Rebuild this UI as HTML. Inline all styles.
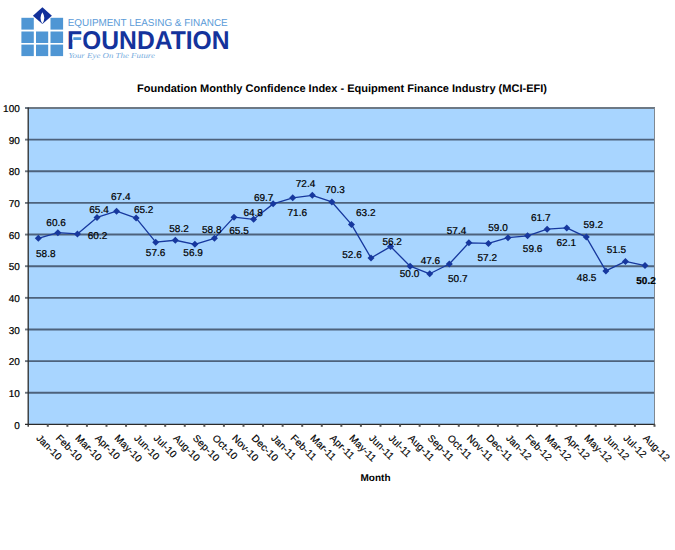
<!DOCTYPE html>
<html><head><meta charset="utf-8"><title>MCI-EFI</title>
<style>
html,body{margin:0;padding:0;background:#fff;}
body{width:675px;height:550px;overflow:hidden;font-family:"Liberation Sans",sans-serif;}
svg{display:block;}
text{font-family:"Liberation Sans",sans-serif;text-rendering:geometricPrecision;}
.k{stroke:#000;stroke-width:0.22;}
.r{stroke-width:0.16;letter-spacing:0.1px;}
.s{font-family:"Liberation Serif",serif;}
</style></head><body>
<svg width="675" height="550" viewBox="0 0 675 550">
<rect x="0" y="0" width="675" height="550" fill="#ffffff"/>

<g id="logo">
<rect x="21.4" y="17.8" width="12.4" height="11.8" fill="#4f96d4"/>
<rect x="50.5" y="17.8" width="12.6" height="11.8" fill="#4f96d4"/>
<rect x="21.4" y="31.5" width="12.4" height="11.5" fill="#4f96d4"/>
<rect x="36.0" y="31.5" width="12.2" height="11.5" fill="#4f96d4"/>
<rect x="50.5" y="31.5" width="12.6" height="11.5" fill="#4f96d4"/>
<rect x="21.4" y="44.6" width="12.4" height="11.5" fill="#4f96d4"/>
<rect x="36.0" y="44.6" width="12.2" height="11.5" fill="#4f96d4"/>
<rect x="50.5" y="44.6" width="12.6" height="11.5" fill="#4f96d4"/>
<polygon points="42.4,7.3 51.9,15.7 42.4,24.1 32.9,15.7" fill="#12309a"/>
<path d="M42.4,12.2 Q38.6,18 42.4,23.7 Q46.2,18 42.4,12.2 Z" fill="#ffffff"/>
<text x="67.7" y="25.6" font-size="10.1" fill="#5b9bd8" textLength="160" lengthAdjust="spacingAndGlyphs">EQUIPMENT LEASING &amp; FINANCE</text>
<text x="67.0" y="48.9" font-size="25.8" font-weight="bold" fill="#14339c" textLength="162.6" lengthAdjust="spacingAndGlyphs">FOUNDATION</text>
<rect x="72.45" y="36.0" width="10.8" height="7.4" fill="#ffffff"/>
<rect x="73.3" y="37.2" width="7.9" height="2.9" rx="0.5" fill="#4c98d8"/>
<text class="s" x="68.4" y="58.2" font-size="7.6" font-style="italic" fill="#76abdd" textLength="86.5" lengthAdjust="spacingAndGlyphs">Your Eye On The Future</text>
</g>
<text x="137.0" y="92" font-size="11" font-weight="bold" fill="#000" textLength="410" lengthAdjust="spacingAndGlyphs">Foundation Monthly Confidence Index - Equipment Finance Industry (MCI-EFI)</text>
<rect x="28.2" y="108.0" width="626.30" height="316.40" fill="#a8d5ff"/>
<line x1="28.2" y1="392.76" x2="654.5" y2="392.76" stroke="#4d627c" stroke-width="1.9"/>
<line x1="25" y1="392.76" x2="28.2" y2="392.76" stroke="#6f7780" stroke-width="1.9"/>
<line x1="28.2" y1="361.12" x2="654.5" y2="361.12" stroke="#4d627c" stroke-width="1.9"/>
<line x1="25" y1="361.12" x2="28.2" y2="361.12" stroke="#6f7780" stroke-width="1.9"/>
<line x1="28.2" y1="329.48" x2="654.5" y2="329.48" stroke="#4d627c" stroke-width="1.9"/>
<line x1="25" y1="329.48" x2="28.2" y2="329.48" stroke="#6f7780" stroke-width="1.9"/>
<line x1="28.2" y1="297.84" x2="654.5" y2="297.84" stroke="#4d627c" stroke-width="1.9"/>
<line x1="25" y1="297.84" x2="28.2" y2="297.84" stroke="#6f7780" stroke-width="1.9"/>
<line x1="28.2" y1="266.20" x2="654.5" y2="266.20" stroke="#4d627c" stroke-width="1.9"/>
<line x1="25" y1="266.20" x2="28.2" y2="266.20" stroke="#6f7780" stroke-width="1.9"/>
<line x1="28.2" y1="234.56" x2="654.5" y2="234.56" stroke="#4d627c" stroke-width="1.9"/>
<line x1="25" y1="234.56" x2="28.2" y2="234.56" stroke="#6f7780" stroke-width="1.9"/>
<line x1="28.2" y1="202.92" x2="654.5" y2="202.92" stroke="#4d627c" stroke-width="1.9"/>
<line x1="25" y1="202.92" x2="28.2" y2="202.92" stroke="#6f7780" stroke-width="1.9"/>
<line x1="28.2" y1="171.28" x2="654.5" y2="171.28" stroke="#4d627c" stroke-width="1.9"/>
<line x1="25" y1="171.28" x2="28.2" y2="171.28" stroke="#6f7780" stroke-width="1.9"/>
<line x1="28.2" y1="139.64" x2="654.5" y2="139.64" stroke="#4d627c" stroke-width="1.9"/>
<line x1="25" y1="139.64" x2="28.2" y2="139.64" stroke="#6f7780" stroke-width="1.9"/>
<line x1="25" y1="108.0" x2="655.0" y2="108.0" stroke="#6d7985" stroke-width="2"/>
<line x1="654.5" y1="108.0" x2="654.5" y2="424.4" stroke="#7f8891" stroke-width="1"/>
<line x1="28.2" y1="107.4" x2="28.2" y2="426.79999999999995" stroke="#2a2a2a" stroke-width="1.3"/>
<line x1="25" y1="424.4" x2="655.0" y2="424.4" stroke="#2a2a2a" stroke-width="1.1"/>
<line x1="47.77" y1="424.4" x2="47.77" y2="426.79999999999995" stroke="#555" stroke-width="2"/>
<line x1="67.34" y1="424.4" x2="67.34" y2="426.79999999999995" stroke="#555" stroke-width="2"/>
<line x1="86.92" y1="424.4" x2="86.92" y2="426.79999999999995" stroke="#555" stroke-width="2"/>
<line x1="106.49" y1="424.4" x2="106.49" y2="426.79999999999995" stroke="#555" stroke-width="2"/>
<line x1="126.06" y1="424.4" x2="126.06" y2="426.79999999999995" stroke="#555" stroke-width="2"/>
<line x1="145.63" y1="424.4" x2="145.63" y2="426.79999999999995" stroke="#555" stroke-width="2"/>
<line x1="165.20" y1="424.4" x2="165.20" y2="426.79999999999995" stroke="#555" stroke-width="2"/>
<line x1="184.77" y1="424.4" x2="184.77" y2="426.79999999999995" stroke="#555" stroke-width="2"/>
<line x1="204.35" y1="424.4" x2="204.35" y2="426.79999999999995" stroke="#555" stroke-width="2"/>
<line x1="223.92" y1="424.4" x2="223.92" y2="426.79999999999995" stroke="#555" stroke-width="2"/>
<line x1="243.49" y1="424.4" x2="243.49" y2="426.79999999999995" stroke="#555" stroke-width="2"/>
<line x1="263.06" y1="424.4" x2="263.06" y2="426.79999999999995" stroke="#555" stroke-width="2"/>
<line x1="282.63" y1="424.4" x2="282.63" y2="426.79999999999995" stroke="#555" stroke-width="2"/>
<line x1="302.21" y1="424.4" x2="302.21" y2="426.79999999999995" stroke="#555" stroke-width="2"/>
<line x1="321.78" y1="424.4" x2="321.78" y2="426.79999999999995" stroke="#555" stroke-width="2"/>
<line x1="341.35" y1="424.4" x2="341.35" y2="426.79999999999995" stroke="#555" stroke-width="2"/>
<line x1="360.92" y1="424.4" x2="360.92" y2="426.79999999999995" stroke="#555" stroke-width="2"/>
<line x1="380.49" y1="424.4" x2="380.49" y2="426.79999999999995" stroke="#555" stroke-width="2"/>
<line x1="400.07" y1="424.4" x2="400.07" y2="426.79999999999995" stroke="#555" stroke-width="2"/>
<line x1="419.64" y1="424.4" x2="419.64" y2="426.79999999999995" stroke="#555" stroke-width="2"/>
<line x1="439.21" y1="424.4" x2="439.21" y2="426.79999999999995" stroke="#555" stroke-width="2"/>
<line x1="458.78" y1="424.4" x2="458.78" y2="426.79999999999995" stroke="#555" stroke-width="2"/>
<line x1="478.35" y1="424.4" x2="478.35" y2="426.79999999999995" stroke="#555" stroke-width="2"/>
<line x1="497.92" y1="424.4" x2="497.92" y2="426.79999999999995" stroke="#555" stroke-width="2"/>
<line x1="517.50" y1="424.4" x2="517.50" y2="426.79999999999995" stroke="#555" stroke-width="2"/>
<line x1="537.07" y1="424.4" x2="537.07" y2="426.79999999999995" stroke="#555" stroke-width="2"/>
<line x1="556.64" y1="424.4" x2="556.64" y2="426.79999999999995" stroke="#555" stroke-width="2"/>
<line x1="576.21" y1="424.4" x2="576.21" y2="426.79999999999995" stroke="#555" stroke-width="2"/>
<line x1="595.78" y1="424.4" x2="595.78" y2="426.79999999999995" stroke="#555" stroke-width="2"/>
<line x1="615.36" y1="424.4" x2="615.36" y2="426.79999999999995" stroke="#555" stroke-width="2"/>
<line x1="634.93" y1="424.4" x2="634.93" y2="426.79999999999995" stroke="#555" stroke-width="2"/>
<line x1="654.50" y1="424.4" x2="654.50" y2="426.79999999999995" stroke="#555" stroke-width="2"/>
<text x="19.8" y="428.50" font-size="10" text-anchor="end" fill="#000" class="k">0</text>
<text x="19.8" y="396.86" font-size="10" text-anchor="end" fill="#000" class="k">10</text>
<text x="19.8" y="365.22" font-size="10" text-anchor="end" fill="#000" class="k">20</text>
<text x="19.8" y="333.58" font-size="10" text-anchor="end" fill="#000" class="k">30</text>
<text x="19.8" y="301.94" font-size="10" text-anchor="end" fill="#000" class="k">40</text>
<text x="19.8" y="270.30" font-size="10" text-anchor="end" fill="#000" class="k">50</text>
<text x="19.8" y="238.66" font-size="10" text-anchor="end" fill="#000" class="k">60</text>
<text x="19.8" y="207.02" font-size="10" text-anchor="end" fill="#000" class="k">70</text>
<text x="19.8" y="175.38" font-size="10" text-anchor="end" fill="#000" class="k">80</text>
<text x="19.8" y="143.74" font-size="10" text-anchor="end" fill="#000" class="k">90</text>
<text x="19.8" y="112.10" font-size="10" text-anchor="end" fill="#000" class="k">100</text>
<text transform="translate(35.69,438.7) rotate(45)" font-size="10" fill="#000" class="k r">Jan-10</text>
<text transform="translate(55.26,438.7) rotate(45)" font-size="10" fill="#000" class="k r">Feb-10</text>
<text transform="translate(74.83,438.7) rotate(45)" font-size="10" fill="#000" class="k r">Mar-10</text>
<text transform="translate(94.40,438.7) rotate(45)" font-size="10" fill="#000" class="k r">Apr-10</text>
<text transform="translate(113.97,438.7) rotate(45)" font-size="10" fill="#000" class="k r">May-10</text>
<text transform="translate(133.55,438.7) rotate(45)" font-size="10" fill="#000" class="k r">Jun-10</text>
<text transform="translate(153.12,438.7) rotate(45)" font-size="10" fill="#000" class="k r">Jul-10</text>
<text transform="translate(172.69,438.7) rotate(45)" font-size="10" fill="#000" class="k r">Aug-10</text>
<text transform="translate(192.26,438.7) rotate(45)" font-size="10" fill="#000" class="k r">Sep-10</text>
<text transform="translate(211.83,438.7) rotate(45)" font-size="10" fill="#000" class="k r">Oct-10</text>
<text transform="translate(231.40,438.7) rotate(45)" font-size="10" fill="#000" class="k r">Nov-10</text>
<text transform="translate(250.98,438.7) rotate(45)" font-size="10" fill="#000" class="k r">Dec-10</text>
<text transform="translate(270.55,438.7) rotate(45)" font-size="10" fill="#000" class="k r">Jan-11</text>
<text transform="translate(290.12,438.7) rotate(45)" font-size="10" fill="#000" class="k r">Feb-11</text>
<text transform="translate(309.69,438.7) rotate(45)" font-size="10" fill="#000" class="k r">Mar-11</text>
<text transform="translate(329.26,438.7) rotate(45)" font-size="10" fill="#000" class="k r">Apr-11</text>
<text transform="translate(348.84,438.7) rotate(45)" font-size="10" fill="#000" class="k r">May-11</text>
<text transform="translate(368.41,438.7) rotate(45)" font-size="10" fill="#000" class="k r">Jun-11</text>
<text transform="translate(387.98,438.7) rotate(45)" font-size="10" fill="#000" class="k r">Jul-11</text>
<text transform="translate(407.55,438.7) rotate(45)" font-size="10" fill="#000" class="k r">Aug-11</text>
<text transform="translate(427.12,438.7) rotate(45)" font-size="10" fill="#000" class="k r">Sep-11</text>
<text transform="translate(446.70,438.7) rotate(45)" font-size="10" fill="#000" class="k r">Oct-11</text>
<text transform="translate(466.27,438.7) rotate(45)" font-size="10" fill="#000" class="k r">Nov-11</text>
<text transform="translate(485.84,438.7) rotate(45)" font-size="10" fill="#000" class="k r">Dec-11</text>
<text transform="translate(505.41,438.7) rotate(45)" font-size="10" fill="#000" class="k r">Jan-12</text>
<text transform="translate(524.98,438.7) rotate(45)" font-size="10" fill="#000" class="k r">Feb-12</text>
<text transform="translate(544.55,438.7) rotate(45)" font-size="10" fill="#000" class="k r">Mar-12</text>
<text transform="translate(564.13,438.7) rotate(45)" font-size="10" fill="#000" class="k r">Apr-12</text>
<text transform="translate(583.70,438.7) rotate(45)" font-size="10" fill="#000" class="k r">May-12</text>
<text transform="translate(603.27,438.7) rotate(45)" font-size="10" fill="#000" class="k r">Jun-12</text>
<text transform="translate(622.84,438.7) rotate(45)" font-size="10" fill="#000" class="k r">Jul-12</text>
<text transform="translate(642.41,438.7) rotate(45)" font-size="10" fill="#000" class="k r">Aug-12</text>
<text x="375.5" y="480.8" font-size="10" font-weight="bold" text-anchor="middle" fill="#000">Month</text>
<polyline points="38.29,238.36 57.86,232.66 77.43,233.93 97.00,217.47 116.57,211.15 136.15,218.11 155.72,242.15 175.29,240.26 194.86,244.37 214.43,238.36 234.00,217.16 253.58,219.37 273.15,203.87 292.72,197.86 312.29,195.33 331.86,201.97 351.44,224.44 371.01,257.97 390.58,246.58 410.15,266.20 429.72,273.79 449.30,263.99 468.87,242.79 488.44,243.42 508.01,237.72 527.58,235.83 547.15,229.18 566.73,227.92 586.30,237.09 605.87,270.95 625.44,261.45 645.01,265.57" fill="none" stroke="#17389e" stroke-width="1.3" stroke-linejoin="round"/>
<polygon points="38.29,234.86 41.79,238.36 38.29,241.86 34.79,238.36" fill="#17389e"/>
<polygon points="57.86,229.16 61.36,232.66 57.86,236.16 54.36,232.66" fill="#17389e"/>
<polygon points="77.43,230.43 80.93,233.93 77.43,237.43 73.93,233.93" fill="#17389e"/>
<polygon points="97.00,213.97 100.50,217.47 97.00,220.97 93.50,217.47" fill="#17389e"/>
<polygon points="116.57,207.65 120.07,211.15 116.57,214.65 113.07,211.15" fill="#17389e"/>
<polygon points="136.15,214.61 139.65,218.11 136.15,221.61 132.65,218.11" fill="#17389e"/>
<polygon points="155.72,238.65 159.22,242.15 155.72,245.65 152.22,242.15" fill="#17389e"/>
<polygon points="175.29,236.76 178.79,240.26 175.29,243.76 171.79,240.26" fill="#17389e"/>
<polygon points="194.86,240.87 198.36,244.37 194.86,247.87 191.36,244.37" fill="#17389e"/>
<polygon points="214.43,234.86 217.93,238.36 214.43,241.86 210.93,238.36" fill="#17389e"/>
<polygon points="234.00,213.66 237.50,217.16 234.00,220.66 230.50,217.16" fill="#17389e"/>
<polygon points="253.58,215.87 257.08,219.37 253.58,222.87 250.08,219.37" fill="#17389e"/>
<polygon points="273.15,200.37 276.65,203.87 273.15,207.37 269.65,203.87" fill="#17389e"/>
<polygon points="292.72,194.36 296.22,197.86 292.72,201.36 289.22,197.86" fill="#17389e"/>
<polygon points="312.29,191.83 315.79,195.33 312.29,198.83 308.79,195.33" fill="#17389e"/>
<polygon points="331.86,198.47 335.36,201.97 331.86,205.47 328.36,201.97" fill="#17389e"/>
<polygon points="351.44,220.94 354.94,224.44 351.44,227.94 347.94,224.44" fill="#17389e"/>
<polygon points="371.01,254.47 374.51,257.97 371.01,261.47 367.51,257.97" fill="#17389e"/>
<polygon points="390.58,243.08 394.08,246.58 390.58,250.08 387.08,246.58" fill="#17389e"/>
<polygon points="410.15,262.70 413.65,266.20 410.15,269.70 406.65,266.20" fill="#17389e"/>
<polygon points="429.72,270.29 433.22,273.79 429.72,277.29 426.22,273.79" fill="#17389e"/>
<polygon points="449.30,260.49 452.80,263.99 449.30,267.49 445.80,263.99" fill="#17389e"/>
<polygon points="468.87,239.29 472.37,242.79 468.87,246.29 465.37,242.79" fill="#17389e"/>
<polygon points="488.44,239.92 491.94,243.42 488.44,246.92 484.94,243.42" fill="#17389e"/>
<polygon points="508.01,234.22 511.51,237.72 508.01,241.22 504.51,237.72" fill="#17389e"/>
<polygon points="527.58,232.33 531.08,235.83 527.58,239.33 524.08,235.83" fill="#17389e"/>
<polygon points="547.15,225.68 550.65,229.18 547.15,232.68 543.65,229.18" fill="#17389e"/>
<polygon points="566.73,224.42 570.23,227.92 566.73,231.42 563.23,227.92" fill="#17389e"/>
<polygon points="586.30,233.59 589.80,237.09 586.30,240.59 582.80,237.09" fill="#17389e"/>
<polygon points="605.87,267.45 609.37,270.95 605.87,274.45 602.37,270.95" fill="#17389e"/>
<polygon points="625.44,257.95 628.94,261.45 625.44,264.95 621.94,261.45" fill="#17389e"/>
<polygon points="645.01,262.07 648.51,265.57 645.01,269.07 641.51,265.57" fill="#17389e"/>
<text x="45.8" y="257.1" font-size="10" text-anchor="middle" fill="#000" class="k">58.8</text>
<text x="56.1" y="225.8" font-size="10" text-anchor="middle" fill="#000" class="k">60.6</text>
<text x="97.5" y="238.9" font-size="10" text-anchor="middle" fill="#000" class="k">60.2</text>
<text x="99.0" y="212.5" font-size="10" text-anchor="middle" fill="#000" class="k">65.4</text>
<text x="120.8" y="199.9" font-size="10" text-anchor="middle" fill="#000" class="k">67.4</text>
<text x="143.7" y="213.0" font-size="10" text-anchor="middle" fill="#000" class="k">65.2</text>
<text x="155.6" y="256.1" font-size="10" text-anchor="middle" fill="#000" class="k">57.6</text>
<text x="179.0" y="231.5" font-size="10" text-anchor="middle" fill="#000" class="k">58.2</text>
<text x="193.1" y="256.0" font-size="10" text-anchor="middle" fill="#000" class="k">56.9</text>
<text x="211.8" y="233.3" font-size="10" text-anchor="middle" fill="#000" class="k">58.8</text>
<text x="239.0" y="234.3" font-size="10" text-anchor="middle" fill="#000" class="k">65.5</text>
<text x="253.2" y="215.9" font-size="10" text-anchor="middle" fill="#000" class="k">64.8</text>
<text x="263.7" y="200.8" font-size="10" text-anchor="middle" fill="#000" class="k">69.7</text>
<text x="297.3" y="216.4" font-size="10" text-anchor="middle" fill="#000" class="k">71.6</text>
<text x="305.5" y="187.0" font-size="10" text-anchor="middle" fill="#000" class="k">72.4</text>
<text x="335.0" y="192.9" font-size="10" text-anchor="middle" fill="#000" class="k">70.3</text>
<text x="365.8" y="216.1" font-size="10" text-anchor="middle" fill="#000" class="k">63.2</text>
<text x="352.0" y="257.6" font-size="10" text-anchor="middle" fill="#000" class="k">52.6</text>
<text x="392.2" y="245.1" font-size="10" text-anchor="middle" fill="#000" class="k">56.2</text>
<text x="409.5" y="277.2" font-size="10" text-anchor="middle" fill="#000" class="k">50.0</text>
<text x="430.4" y="263.9" font-size="10" text-anchor="middle" fill="#000" class="k">47.6</text>
<text x="457.8" y="282.3" font-size="10" text-anchor="middle" fill="#000" class="k">50.7</text>
<text x="456.5" y="234.2" font-size="10" text-anchor="middle" fill="#000" class="k">57.4</text>
<text x="487.3" y="261.1" font-size="10" text-anchor="middle" fill="#000" class="k">57.2</text>
<text x="498.0" y="231.4" font-size="10" text-anchor="middle" fill="#000" class="k">59.0</text>
<text x="532.6" y="252.0" font-size="10" text-anchor="middle" fill="#000" class="k">59.6</text>
<text x="540.8" y="220.9" font-size="10" text-anchor="middle" fill="#000" class="k">61.7</text>
<text x="566.3" y="246.4" font-size="10" text-anchor="middle" fill="#000" class="k">62.1</text>
<text x="593.3" y="228.2" font-size="10" text-anchor="middle" fill="#000" class="k">59.2</text>
<text x="586.6" y="281.2" font-size="10" text-anchor="middle" fill="#000" class="k">48.5</text>
<text x="616.4" y="253.1" font-size="10" text-anchor="middle" fill="#000" class="k">51.5</text>
<text x="646.0" y="284.1" font-size="10" text-anchor="middle" fill="#000" class="k" font-weight="bold">50.2</text>
</svg>
</body></html>
